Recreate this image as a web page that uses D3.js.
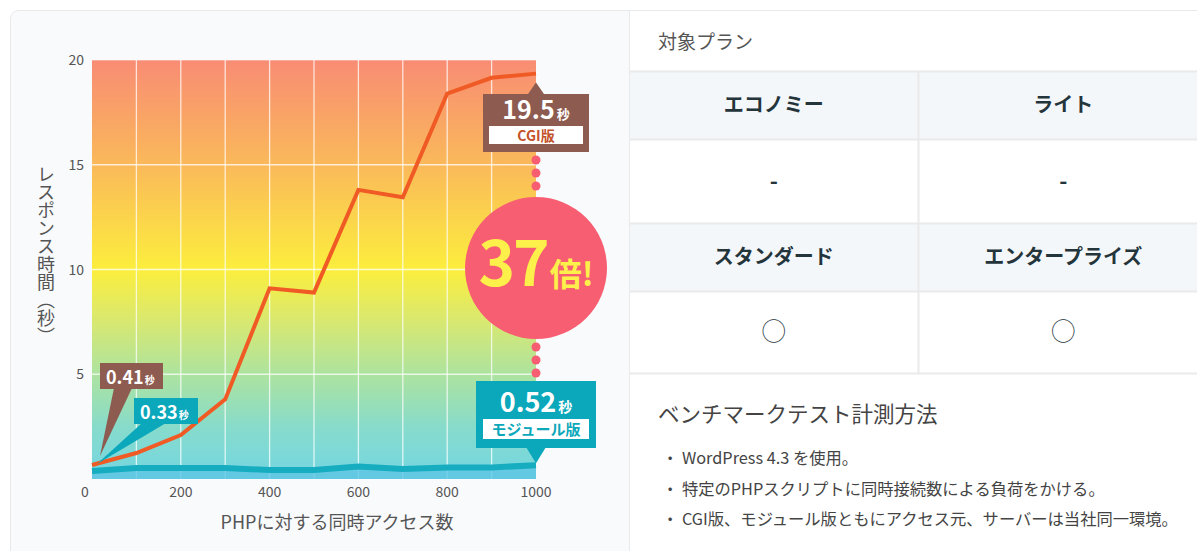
<!DOCTYPE html>
<html>
<head>
<meta charset="utf-8">
<script src="https://cdn.jsdelivr.net/npm/d3@7"></script>
<style>
  body { margin: 0; background: #fff; }
  svg { display: block; font-family: "Noto Sans CJK JP", "Noto Sans", sans-serif; }
</style>
</head>
<body>
<div id="chart"></div>
<script>
// data
var concurrency = [0, 100, 200, 300, 400, 500, 600, 700, 800, 900, 1000];
var cgiTimes = [0.67, 1.24, 2.1, 3.8, 9.1, 8.9, 13.8, 13.45, 18.4, 19.15, 19.35];
var moduleTimes = [0.38, 0.52, 0.52, 0.52, 0.43, 0.43, 0.6, 0.48, 0.55, 0.55, 0.66];
var xTicks = [0, 200, 400, 600, 800, 1000];
var yTicks = [5, 10, 15, 20];
var planHeads = [["エコノミー", "ライト"], ["スタンダード", "エンタープライズ"]];
var planMarks = [["-", "-"], ["◯", "◯"]];
var notes = ["WordPress 4.3 を使用。", "特定のPHPスクリプトに同時接続数による負荷をかける。", "CGI版、モジュール版ともにアクセス元、サーバーは当社同一環境。"];

var W = 1197, H = 551;
var svg = d3.select("#chart").append("svg")
	.attr("width", W)
	.attr("height", H);

// card
svg.append("rect")
	.attr("x", 10.5).attr("y", 10.5)
	.attr("width", 1220).attr("height", 580)
	.attr("rx", 8)
	.attr("fill", "#f9fafc")
	.attr("stroke", "#e8e9eb");

var x = d3.scaleLinear().domain([0, 1000]).range([92, 536]);
var y = d3.scaleLinear().domain([0, 20]).range([479, 60]);

// background gradient
var defs = svg.append("defs");
var grad = defs.append("linearGradient")
	.attr("id", "bg").attr("x1", 0).attr("y1", 0).attr("x2", 0).attr("y2", 1);
[[0, "#f88c74"], [0.25, "#fab95a"], [0.5, "#fcee3d"], [0.63, "#d6e873"], [0.75, "#ade39f"], [0.88, "#86dbcc"], [1, "#74d6e2"]]
	.forEach(function(s){
		grad.append("stop").attr("offset", s[0]).attr("stop-color", s[1]);
	});

svg.append("rect")
	.attr("x", x(0)).attr("y", y(20))
	.attr("width", x(1000) - x(0)).attr("height", y(0) - y(20))
	.attr("fill", "url(#bg)");

// grid
svg.selectAll(".vgrid")
	.data(d3.range(100, 1000, 100))
	.enter().append("line")
	.attr("class", "vgrid")
	.attr("x1", function(d){return x(d);}).attr("x2", function(d){return x(d);})
	.attr("y1", y(20)).attr("y2", y(0))
	.attr("stroke", "#fff").attr("stroke-opacity", 0.75).attr("stroke-width", 1.3);
svg.selectAll(".hgrid")
	.data([5, 10, 15, 20])
	.enter().append("line")
	.attr("class", "hgrid")
	.attr("x1", x(0)).attr("x2", x(1000))
	.attr("y1", function(d){return y(d);}).attr("y2", function(d){return y(d);})
	.attr("stroke", "#fff").attr("stroke-opacity", function(d){return d == 20 ? 0.4 : 0.75;})
	.attr("stroke-width", 1.3);

// axes labels
svg.selectAll(".ytick")
	.data(yTicks)
	.enter().append("text")
	.attr("x", 84).attr("y", function(d){return y(d) + 5;})
	.attr("text-anchor", "end")
	.attr("font-size", 14).attr("fill", "#555")
	.text(function(d){return d;});
svg.selectAll(".xtick")
	.data(xTicks)
	.enter().append("text")
	.attr("x", function(d){return x(d) - (d == 0 ? 7 : 0);}).attr("y", 497)
	.attr("text-anchor", "middle")
	.attr("font-size", 14).attr("fill", "#555")
	.text(function(d){return d;});

svg.append("text")
	.attr("x", 337).attr("y", 529)
	.attr("text-anchor", "middle")
	.attr("font-size", 18).attr("fill", "#555")
	.text("PHPに対する同時アクセス数");
svg.append("text")
	.attr("x", 46).attr("y", 255)
	.attr("text-anchor", "middle")
	.attr("font-size", 18).attr("fill", "#555")
	.style("writing-mode", "vertical-rl")
	.text("レスポンス時間（秒）");

// series
var pts = function(arr){ return concurrency.map(function(c, i){ return [c, arr[i]]; }); };
svg.append("path")
	.datum(pts(moduleTimes))
	.attr("fill", "#5fc6e4").attr("fill-opacity", 0.8)
	.attr("d", d3.area().x(function(d){return x(d[0]);}).y0(y(0)).y1(function(d){return y(d[1]);}));
svg.append("path")
	.datum(pts(moduleTimes))
	.attr("fill", "none").attr("stroke", "#16adc0").attr("stroke-width", 6)
	.attr("d", d3.line().x(function(d){return x(d[0]);}).y(function(d){return y(d[1]);}));
svg.append("path")
	.datum(pts(cgiTimes))
	.attr("fill", "none").attr("stroke", "#f05a24").attr("stroke-width", 4)
	.attr("stroke-linejoin", "miter")
	.attr("d", d3.line().x(function(d){return x(d[0]);}).y(function(d){return y(d[1]);}));

// start callouts
var brown = "#8d5b4f", teal = "#0ba8bb", pink = "#f85e72";
svg.append("path")
	.attr("d", "M114,388 L132,388 L100,456 Z").attr("fill", brown);
svg.append("rect").attr("x", 100).attr("y", 363).attr("width", 63).attr("height", 26).attr("fill", brown);
var t1 = svg.append("text").attr("x", 106).attr("y", 384).attr("fill", "#fff").attr("font-weight", "bold");
t1.append("tspan").attr("font-size", 18).text("0.41");
t1.append("tspan").attr("font-size", 10).attr("dx", 1).text("秒");

svg.append("path")
	.attr("d", "M142,423 L166,423 L97,464 Z").attr("fill", teal);
svg.append("rect").attr("x", 134).attr("y", 398).attr("width", 64).attr("height", 26).attr("fill", teal);
var t2 = svg.append("text").attr("x", 140).attr("y", 419).attr("fill", "#fff").attr("font-weight", "bold");
t2.append("tspan").attr("font-size", 18).text("0.33");
t2.append("tspan").attr("font-size", 10).attr("dx", 1).text("秒");

// end callouts
var ex = x(1000), cgiEnd = y(cgiTimes[cgiTimes.length - 1]), modEnd = y(moduleTimes[moduleTimes.length - 1]);
svg.append("path")
	.attr("d", "M" + (ex - 9) + "," + (cgiEnd + 22) + " L" + ex + "," + (cgiEnd + 9) + " L" + (ex + 9) + "," + (cgiEnd + 22) + " Z")
	.attr("fill", brown);
svg.append("rect").attr("x", ex - 53).attr("y", 94).attr("width", 106).attr("height", 58).attr("fill", brown);
var t3 = svg.append("text").attr("x", ex).attr("y", 119).attr("text-anchor", "middle").attr("fill", "#fff").attr("font-weight", "bold");
t3.append("tspan").attr("font-size", 25).text("19.5");
t3.append("tspan").attr("font-size", 13).attr("dx", 2).text("秒");
svg.append("rect").attr("x", ex - 47).attr("y", 126).attr("width", 94).attr("height", 18).attr("fill", "#fff");
svg.append("text").attr("x", ex).attr("y", 141).attr("text-anchor", "middle")
	.attr("font-size", 14).attr("font-weight", "bold").attr("fill", "#c4532c").text("CGI版");

svg.append("path")
	.attr("d", "M" + (ex - 10) + "," + 447 + " L" + ex + "," + (modEnd - 2) + " L" + (ex + 10) + "," + 447 + " Z")
	.attr("fill", teal);
svg.append("rect").attr("x", ex - 60).attr("y", 381).attr("width", 120).attr("height", 67).attr("fill", teal);
var t4 = svg.append("text").attr("x", ex).attr("y", 412).attr("text-anchor", "middle").attr("fill", "#fff").attr("font-weight", "bold");
t4.append("tspan").attr("font-size", 27).text("0.52");
t4.append("tspan").attr("font-size", 14).attr("dx", 2).text("秒");
svg.append("rect").attr("x", ex - 53).attr("y", 419).attr("width", 106).attr("height", 20).attr("fill", "#fff");
svg.append("text").attr("x", ex).attr("y", 435).attr("text-anchor", "middle")
	.attr("font-size", 15).attr("font-weight", "bold").attr("fill", teal).text("モジュール版");

// dots and ratio circle
svg.selectAll(".dot")
	.data([160, 173, 186, 347, 360, 373])
	.enter().append("circle")
	.attr("cx", ex).attr("cy", function(d){return d;}).attr("r", 4.5)
	.attr("fill", pink);
svg.append("circle").attr("cx", ex).attr("cy", 268).attr("r", 71).attr("fill", pink);
var t5 = svg.append("text").attr("x", ex).attr("y", 286).attr("text-anchor", "middle")
	.attr("fill", "#fdf04a").attr("font-weight", "bold");
t5.append("tspan").attr("font-size", 62).attr("letter-spacing", -2).text("37");
t5.append("tspan").attr("font-size", 32).attr("dx", 2).text("倍!");

// right panel
var px = 629, colW = 289.5;
var panel = svg.append("g");
panel.append("rect").attr("x", px).attr("y", 11).attr("width", 600).attr("height", 560).attr("fill", "#fff");
panel.append("line").attr("x1", px + 0.5).attr("x2", px + 0.5).attr("y1", 11).attr("y2", H).attr("stroke", "#e9eaec");
panel.append("text").attr("x", 658).attr("y", 49).attr("font-size", 19).attr("fill", "#555").text("対象プラン");

var rowTops = [71, 139, 223, 291, 373];
[0, 1].forEach(function(r){
	panel.append("rect").attr("x", px + 1).attr("y", rowTops[r * 2])
		.attr("width", 600).attr("height", rowTops[r * 2 + 1] - rowTops[r * 2])
		.attr("fill", "#f4f7fa");
});
rowTops.forEach(function(t){
	panel.append("line").attr("x1", px).attr("x2", W).attr("y1", t + 0.5).attr("y2", t + 0.5)
		.attr("stroke", "#eaeaea").attr("stroke-width", 2);
});
panel.append("line").attr("x1", px + colW).attr("x2", px + colW).attr("y1", 71).attr("y2", 373)
	.attr("stroke", "#eaeaea").attr("stroke-width", 2);

planHeads.forEach(function(row, r){
	row.forEach(function(name, c){
		var cx = px + colW * c + colW / 2;
		panel.append("text").attr("x", cx).attr("y", (rowTops[r * 2] + rowTops[r * 2 + 1]) / 2 + 7)
			.attr("text-anchor", "middle").attr("font-size", 20).attr("font-weight", "bold")
			.attr("fill", "#24343b").text(name);
		panel.append("text").attr("x", cx).attr("y", (rowTops[r * 2 + 1] + rowTops[r * 2 + 2]) / 2 + 8)
			.attr("text-anchor", "middle").attr("font-size", planMarks[r][c] == "-" ? 22 : 24)
			.attr("font-weight", planMarks[r][c] == "-" ? "bold" : "normal")
			.attr("fill", "#24343b").text(planMarks[r][c]);
	});
});

panel.append("text").attr("x", 658).attr("y", 422).attr("font-size", 21.5).attr("fill", "#444").text("ベンチマークテスト計測方法");
panel.selectAll(".note")
	.data(notes)
	.enter().append("text")
	.attr("x", 662).attr("y", function(d, i){return 464 + i * 30.5;})
	.attr("font-size", 16.3).attr("fill", "#444")
	.text(function(d){return "・ " + d;});
</script>
</body>
</html>
